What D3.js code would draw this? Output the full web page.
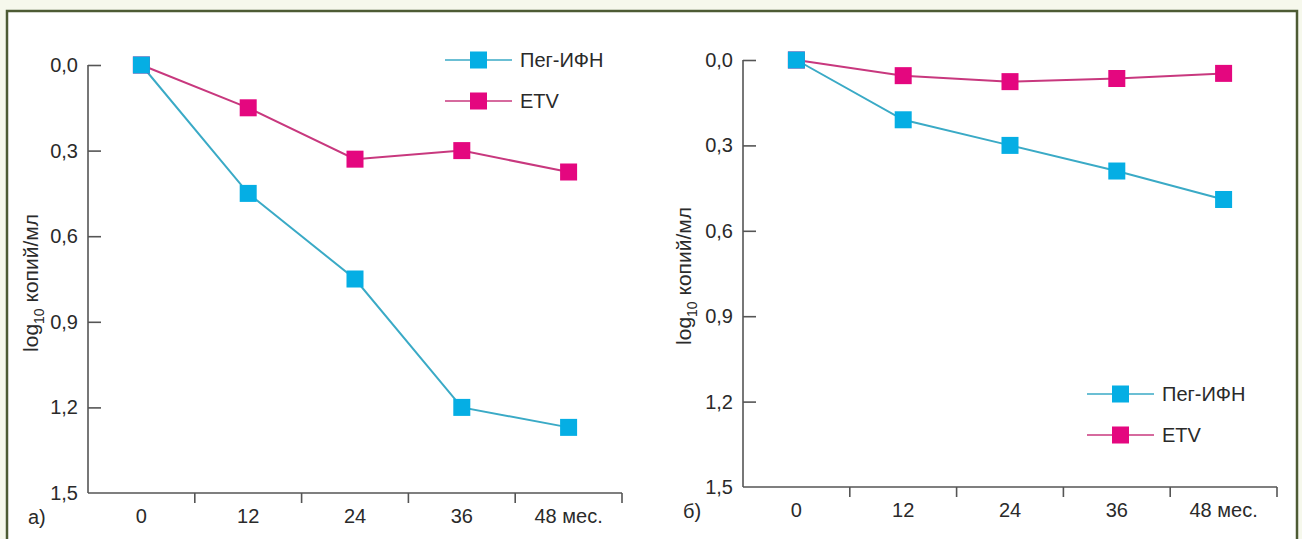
<!DOCTYPE html>
<html lang="ru">
<head>
<meta charset="UTF-8">
<title>log10 копий/мл</title>
<style>
  html, body { margin: 0; padding: 0; background: #f6f8ec; }
  text { font-family: 'Liberation Sans', Arial, sans-serif; fill: #2a2a2a; }
  .axis path, .axis line { stroke: #555; stroke-width: 1.6px; fill: none; }
  .line { fill: none; stroke-width: 2px; }
</style>
</head>
<body>
<svg id="chart" width="1302" height="539" viewBox="0 0 1302 539"></svg>
<script src="https://d3js.org/d3.v7.min.js"></script>
<script>
const months = ["0", "12", "24", "36", "48"];
const monthLabels = ["0", "12", "24", "36", "48 мес."];
const yTicks = [0, 0.3, 0.6, 0.9, 1.2, 1.5];
const seriesNames = ["Пег-ИФН", "ETV"];

// panel а)
const pegA = [0, 0.45, 0.75, 1.2, 1.27];
const etvA = [0, 0.15, 0.33, 0.30, 0.375];
// panel б)
const pegB = [0, 0.21, 0.30, 0.39, 0.49];
const etvB = [0, 0.055, 0.076, 0.065, 0.047];

const lineColor = { "Пег-ИФН": "#3aaac6", "ETV": "#c8387e" };
const markColor = { "Пег-ИФН": "#05aee4", "ETV": "#e4077f" };
const fs = 20;

const svg = d3.select("#chart");

svg.append("rect")
    .attr("x", 7).attr("y", 11)
    .attr("width", 1290).attr("height", 540)
    .attr("fill", "#fff")
    .attr("stroke", "#4d5b34")
    .attr("stroke-width", 2.5);

const panels = [
  { left: 88, right: 622, top: 65, bottom: 493, peg: pegA, etv: etvA, tag: "а)", tagX: 28,
    titleX: 38, titleY: 283, legend: { x: 445, y: 60 } },
  { left: 743, right: 1277, top: 60, bottom: 487, peg: pegB, etv: etvB, tag: "б)", tagX: 683,
    titleX: 691, titleY: 276, legend: { x: 1087, y: 394 } }
];

panels.forEach(function (p) {
  const g = svg.append("g");

  const x = d3.scaleBand().domain(months).range([p.left, p.right]);
  const y = d3.scaleLinear().domain([0, 1.5]).range([p.top, p.bottom]);

  // y axis, ticks pointing inward
  const yAxis = g.append("g")
      .attr("class", "axis")
      .attr("transform", "translate(" + p.left + ",0)")
      .call(d3.axisRight(y).tickValues(yTicks).tickSize(13).tickSizeOuter(0)
        .tickFormat(function (d) { return d3.format(".1f")(d).replace(".", ","); }));
  yAxis.select(".domain").remove();
  yAxis.append("line")
      .attr("x1", 0).attr("x2", 0)
      .attr("y1", y(0)).attr("y2", y(1.5))
      .attr("stroke", "#555").attr("stroke-width", 1.6);
  yAxis.selectAll(".tick line").filter(function (d) { return d === 1.5; }).remove();
  yAxis.selectAll(".tick text")
      .attr("x", -10)
      .attr("text-anchor", "end")
      .attr("font-size", fs)
      .attr("fill", "#2a2a2a");

  // x axis: ticks at band boundaries, labels at band centres
  const xg = g.append("g").attr("class", "axis");
  xg.append("line")
      .attr("x1", p.left).attr("x2", p.right)
      .attr("y1", p.bottom).attr("y2", p.bottom);
  xg.selectAll(".xt")
      .data(months)
      .join("line")
      .attr("x1", function (d) { return x(d) + x.bandwidth(); })
      .attr("x2", function (d) { return x(d) + x.bandwidth(); })
      .attr("y1", p.bottom).attr("y2", p.bottom + 10);
  xg.selectAll(".xl")
      .data(months)
      .join("text")
      .attr("x", function (d) { return x(d) + x.bandwidth() / 2; })
      .attr("y", p.bottom + 30)
      .attr("text-anchor", "middle")
      .attr("font-size", fs)
      .text(function (d, i) { return monthLabels[i]; });

  g.append("text")
      .attr("x", p.tagX).attr("y", p.bottom + 31)
      .attr("font-size", fs)
      .text(p.tag);

  // y title
  const title = g.append("text")
      .attr("transform", "translate(" + p.titleX + "," + p.titleY + ") rotate(-90)")
      .attr("text-anchor", "middle")
      .attr("font-size", 21);
  title.append("tspan").text("log");
  title.append("tspan").attr("font-size", 14).attr("dy", 6).text("10");
  title.append("tspan").attr("dy", -6).text(" копий/мл");

  // series: ETV first so the Peg square sits on top at month 0
  const series = [["ETV", p.etv], ["Пег-ИФН", p.peg]];
  const line = d3.line()
      .x(function (d, i) { return x(months[i]) + x.bandwidth() / 2; })
      .y(function (d) { return y(d); });

  series.forEach(function (s) {
    g.append("path")
        .datum(s[1])
        .attr("class", "line")
        .attr("stroke", lineColor[s[0]])
        .attr("d", line);
  });
  series.forEach(function (s) {
    g.selectAll(null)
        .data(s[1])
        .join("rect")
        .attr("x", function (d, i) { return x(months[i]) + x.bandwidth() / 2 - 8.5; })
        .attr("y", function (d) { return y(d) - 8.5; })
        .attr("width", 17).attr("height", 17)
        .attr("fill", markColor[s[0]]);
  });

  // legend
  const lg = g.append("g").attr("transform", "translate(" + p.legend.x + "," + p.legend.y + ")");
  seriesNames.forEach(function (name, i) {
    const row = lg.append("g").attr("transform", "translate(0," + i * 41 + ")");
    row.append("line")
        .attr("x1", 0).attr("x2", 67)
        .attr("stroke", lineColor[name]).attr("stroke-width", 1.4);
    row.append("rect")
        .attr("x", 25).attr("y", -8.5)
        .attr("width", 17).attr("height", 17)
        .attr("fill", markColor[name]);
    row.append("text")
        .attr("x", 75).attr("y", 7)
        .attr("font-size", fs)
        .text(name);
  });
});
</script>
</body>
</html>
